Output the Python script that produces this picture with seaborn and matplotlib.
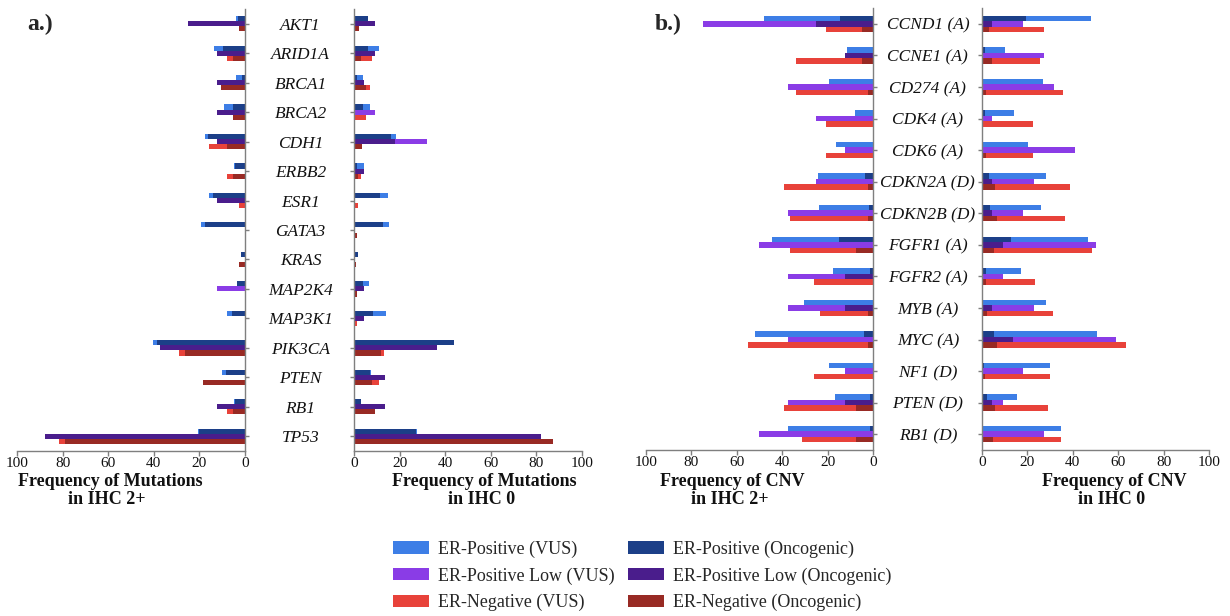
import numpy as np
import pandas as pd
import matplotlib
matplotlib.use("Agg")
import matplotlib.pyplot as plt
from matplotlib.patches import Patch
import seaborn as sns

# ---------------- data ----------------
genes_mut = ["AKT1", "ARID1A", "BRCA1", "BRCA2", "CDH1", "ERBB2", "ESR1", "GATA3",
             "KRAS", "MAP2K4", "MAP3K1", "PIK3CA", "PTEN", "RB1", "TP53"]
genes_cnv = ["CCND1 (A)", "CCNE1 (A)", "CD274 (A)", "CDK4 (A)", "CDK6 (A)", "CDKN2A (D)",
             "CDKN2B (D)", "FGFR1 (A)", "FGFR2 (A)", "MYB (A)", "MYC (A)", "NF1 (D)",
             "PTEN (D)", "RB1 (D)"]
groups = ["ER-Positive", "ER-Positive Low", "ER-Negative"]

# Mutations, IHC 2+
mut2_pos_vus = [4.0, 13.5, 4.1, 9.1, 17.7, 4.7, 15.8, 19.4, 1.9, 3.4, 8.0, 40.4, 10.0, 5.0, 20.5]
mut2_pos_onc = [3.0, 9.8, 1.5, 5.1, 16.2, 4.5, 14.2, 17.7, 1.9, 3.4, 5.6, 38.5, 8.5, 4.2, 20.0]
mut2_low_vus = [0, 0, 0, 0, 0, 0, 0, 0, 0, 12.5, 0, 0, 0, 0, 87.5]
mut2_low_onc = [25.0, 12.5, 12.5, 12.5, 12.5, 0, 12.5, 0, 0, 0, 0, 37.5, 0, 12.5, 87.5]
mut2_neg_vus = [2.6, 7.9, 10.5, 5.3, 15.8, 7.9, 2.6, 0, 2.6, 0, 0, 28.9, 18.4, 7.9, 81.6]
mut2_neg_onc = [2.6, 5.3, 10.5, 5.3, 7.9, 5.3, 0, 0, 2.6, 0, 0, 26.3, 18.4, 5.3, 78.9]

# Mutations, IHC 0
mut0_pos_vus = [6.3, 11.1, 4.1, 7.2, 18.3, 4.5, 15.1, 15.4, 1.6, 6.4, 13.9, 43.8, 7.3, 3.2, 27.5]
mut0_pos_onc = [6.3, 6.3, 1.2, 3.8, 16.3, 1.5, 11.6, 12.6, 1.6, 4.1, 8.5, 43.8, 7.0, 2.9, 27.2]
mut0_low_vus = [0, 0, 0, 9.1, 31.8, 0, 0, 0, 0, 0, 0, 0, 0, 0, 81.8]
mut0_low_onc = [9.1, 9.1, 4.5, 0, 18.2, 4.5, 0, 0, 0, 4.5, 4.5, 36.4, 13.6, 13.6, 81.8]
mut0_neg_vus = [2.3, 7.8, 7.2, 5.1, 3.4, 3.1, 1.9, 1.3, 1.0, 1.5, 1.5, 13.3, 10.8, 9.2, 87.1]
mut0_neg_onc = [2.3, 3.1, 5.1, 0, 3.4, 1.9, 0, 1.3, 1.0, 1.5, 0, 11.7, 7.8, 9.2, 87.1]

# CNV, IHC 2+
cnv2_pos_vus = [48.2, 11.5, 19.4, 7.8, 16.3, 24.2, 23.6, 44.5, 17.6, 30.4, 52.0, 19.4, 16.9, 37.3]
cnv2_pos_onc = [14.4, 0, 0, 0, 0, 3.4, 1.6, 15.1, 1.2, 0, 4.1, 0, 1.5, 1.2]
cnv2_low_vus = [75.0, 12.5, 37.5, 25.0, 12.5, 25.0, 37.5, 50.0, 37.5, 37.5, 37.5, 12.5, 37.5, 50.0]
cnv2_low_onc = [25.0, 12.5, 0, 0, 0, 0, 0, 0, 12.5, 12.5, 0, 0, 12.5, 0]
cnv2_neg_vus = [20.9, 34.1, 34.1, 20.9, 20.9, 39.2, 36.6, 36.6, 26.0, 23.3, 55.2, 26.0, 39.4, 31.3]
cnv2_neg_onc = [4.8, 4.8, 2.2, 0, 0, 2.2, 2.2, 7.5, 0, 2.2, 2.2, 0, 7.5, 7.5]

# CNV, IHC 0
cnv0_pos_vus = [48.2, 10.1, 27.0, 14.2, 20.4, 28.3, 26.2, 46.8, 17.0, 28.0, 50.6, 29.8, 15.4, 35.0]
cnv0_pos_onc = [19.6, 1.3, 0, 1.3, 0, 3.1, 3.5, 12.6, 1.6, 0, 5.4, 1.0, 2.1, 0]
cnv0_low_vus = [18.2, 27.3, 31.8, 4.5, 40.9, 22.7, 18.2, 50.0, 9.1, 22.7, 59.1, 18.2, 9.1, 27.3]
cnv0_low_onc = [4.5, 0, 0, 0, 0, 4.5, 4.5, 9.1, 0, 4.5, 13.6, 0, 4.5, 0]
cnv0_neg_vus = [27.1, 25.5, 35.5, 22.4, 22.4, 38.6, 36.4, 48.4, 23.5, 31.2, 63.5, 29.8, 29.2, 34.9]
cnv0_neg_onc = [3.2, 4.4, 1.8, 0, 1.8, 5.9, 6.5, 5.3, 1.6, 2.1, 6.7, 1.2, 5.7, 4.8]

x_ticks = [0, 20, 40, 60, 80, 100]
legend_labels_vus = ["ER-Positive (VUS)", "ER-Positive Low (VUS)", "ER-Negative (VUS)"]
legend_labels_onc = ["ER-Positive (Oncogenic)", "ER-Positive Low (Oncogenic)", "ER-Negative (Oncogenic)"]

# ---------------- style ----------------
sns.set_style("white")
plt.rcParams["font.family"] = ["Liberation Serif", "DejaVu Serif"]

light_pal = {"ER-Positive": "#3d7ee6", "ER-Positive Low": "#8a3ce6", "ER-Negative": "#e8423a"}
dark_pal = {"ER-Positive": "#1c3f88", "ER-Positive Low": "#4a1d8c", "ER-Negative": "#982a24"}
spine_col = "#7f7f7f"

W, H = 1230, 616
fig = plt.figure(figsize=(W / 100, H / 100), dpi=100)


def axrect(x0, x1, y0, y1):
    return [x0 / W, 1 - y1 / H, (x1 - x0) / W, (y1 - y0) / H]


def long_df(genes, pos, low, neg):
    rows = []
    for g, vals in zip(groups, [pos, low, neg]):
        for gene, v in zip(genes, vals):
            rows.append({"gene": gene, "group": g, "value": v})
    return pd.DataFrame(rows)


def draw_panel(ax, genes, vus, onc, left, label_pad=None):
    d_v = long_df(genes, *vus)
    d_o = long_df(genes, *onc)
    for d, pal in [(d_v, light_pal), (d_o, dark_pal)]:
        sns.barplot(data=d, y="gene", x="value", hue="group", hue_order=groups,
                    order=genes, palette=pal, orient="h", width=0.52, dodge=True,
                    errorbar=None, saturation=1, legend=False, ax=ax, linewidth=0)
    ax.set_xlabel("")
    ax.set_ylabel("")
    ax.set_xticks(x_ticks)
    ax.set_xticklabels([str(t) for t in x_ticks])
    ax.set_ylim(len(genes) - 0.5, -0.5)
    for s in ax.spines.values():
        s.set_color(spine_col)
        s.set_linewidth(1.0)
    ax.spines["top"].set_visible(False)
    ax.tick_params(axis="x", direction="out", length=3.5, width=1, color=spine_col,
                   labelsize=11, pad=1, bottom=True, labelcolor="#111111")
    if left:
        ax.set_xlim(100, 0)
        ax.spines["left"].set_visible(False)
        ax.yaxis.tick_right()
        ax.set_yticks(range(len(genes)))
        ax.set_yticklabels(genes, fontstyle="italic", fontsize=12.5, color="#111111")
        for t in ax.get_yticklabels():
            t.set_horizontalalignment("center")
        ax.tick_params(axis="y", direction="out", length=3, width=1, color=spine_col,
                       pad=label_pad, right=True, left=False)
    else:
        ax.set_xlim(0, 100)
        ax.spines["right"].set_visible(False)
        ax.set_yticks(range(len(genes)))
        ax.tick_params(axis="y", direction="out", length=3, width=1, color=spine_col,
                       labelleft=False, left=True)


ax_a2 = fig.add_axes(axrect(17, 245, 9, 451))
ax_a0 = fig.add_axes(axrect(354, 582, 9, 451))
ax_b2 = fig.add_axes(axrect(646, 873, 8, 450))
ax_b0 = fig.add_axes(axrect(982, 1209, 8, 450))

draw_panel(ax_a2, genes_mut, (mut2_pos_vus, mut2_low_vus, mut2_neg_vus),
           (mut2_pos_onc, mut2_low_onc, mut2_neg_onc), left=True, label_pad=37)
draw_panel(ax_a0, genes_mut, (mut0_pos_vus, mut0_low_vus, mut0_neg_vus),
           (mut0_pos_onc, mut0_low_onc, mut0_neg_onc), left=False)
draw_panel(ax_b2, genes_cnv, (cnv2_pos_vus, cnv2_low_vus, cnv2_neg_vus),
           (cnv2_pos_onc, cnv2_low_onc, cnv2_neg_onc), left=True, label_pad=36.5)
draw_panel(ax_b0, genes_cnv, (cnv0_pos_vus, cnv0_low_vus, cnv0_neg_vus),
           (cnv0_pos_onc, cnv0_low_onc, cnv0_neg_onc), left=False)

# axis titles
tkw = dict(ha="center", va="center", fontsize=13, fontweight="bold", color="#111111")
fig.text(110 / W, 1 - 482 / H, "Frequency of Mutations", **tkw)
fig.text(107 / W, 1 - 500 / H, "in IHC 2+", **tkw)
fig.text(484 / W, 1 - 482 / H, "Frequency of Mutations", **tkw)
fig.text(482 / W, 1 - 500 / H, "in IHC 0", **tkw)
fig.text(732 / W, 1 - 482 / H, "Frequency of CNV", **tkw)
fig.text(730 / W, 1 - 500 / H, "in IHC 2+", **tkw)
fig.text(1114 / W, 1 - 482 / H, "Frequency of CNV", **tkw)
fig.text(1112 / W, 1 - 500 / H, "in IHC 0", **tkw)

# panel labels
fig.text(27 / W, 1 - 24 / H, "a.)", ha="left", va="center", fontsize=17, fontweight="bold")
fig.text(655 / W, 1 - 24 / H, "b.)", ha="left", va="center", fontsize=17, fontweight="bold")

# legend
handles = [Patch(facecolor=light_pal[g], edgecolor="none") for g in groups] + \
          [Patch(facecolor=dark_pal[g], edgecolor="none") for g in groups]
labels = legend_labels_vus + legend_labels_onc
fig.legend(handles, labels, ncol=2, loc="center", bbox_to_anchor=(642 / W, 1 - 576 / H),
           frameon=False, fontsize=13, handlelength=2.0, handleheight=0.67,
           handletextpad=0.5, columnspacing=0.75, labelspacing=0.52, borderpad=0)

fig.savefig("out.png", dpi=100)
